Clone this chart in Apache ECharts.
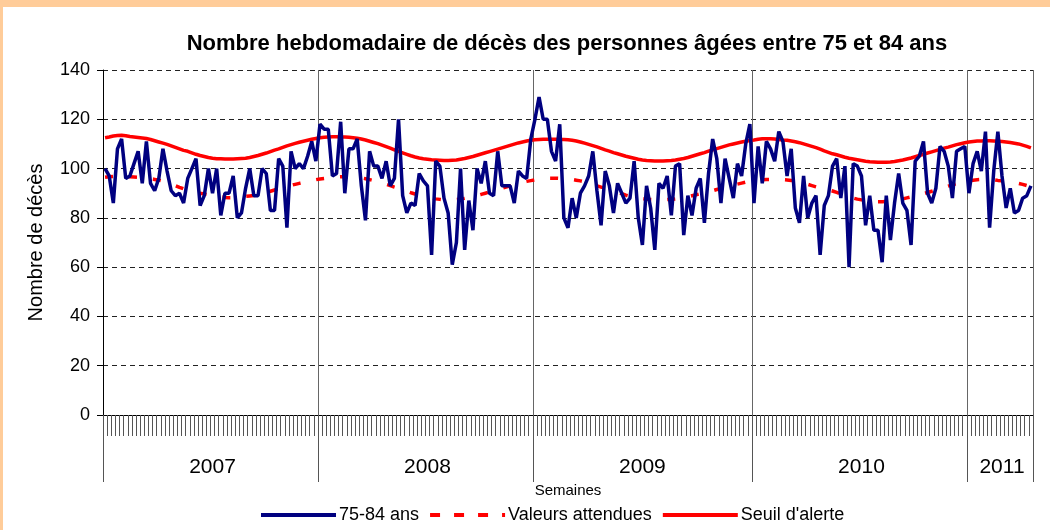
<!DOCTYPE html>
<html>
<head>
<meta charset="utf-8">
<script src="https://cdn.jsdelivr.net/npm/echarts@6/dist/echarts.min.js"></script>
<style>
  html, body { margin: 0; padding: 0; background: #fff; }
  #chart { width: 1050px; height: 530px; }
</style>
</head>
<body>
<div id="chart"></div>
<script>
// ---- Data ----
const years = ['2007', '2008', '2009', '2010', '2011'];

// Weekly deaths, persons aged 75-84
const deaths2007 = [100,97,86,108,112,96,97,102,107,94,111,94,91,96,108,99,91,89,90,86,96,100,104,85,89,100,90,100,81,90,90,97,80,82,92,100,89,89,100,98,83,83,104,101,76,107,100,102,100,105,111,103];
const deaths2008 = [118,116,116,97,98,119,90,108,108,112,93,79,107,101,101,96,103,93,96,120,89,82,86,85,98,95,93,65,103,101,88,82,61,70,100,67,87,75,100,94,103,90,89,107,93,93,93,86,99,97,96,112];
const deaths2009 = [120,129,120,120,107,103,118,80,76,88,80,90,93,97,107,91,77,99,93,82,94,90,86,88,103,80,69,93,84,67,94,92,97,81,101,102,73,89,81,92,96,78,98,112,104,86,104,96,88,102,97,110,118];
const deaths2010 = [86,109,94,111,108,103,115,111,97,108,84,78,97,80,86,89,65,85,89,101,104,88,101,60,102,101,97,77,89,75,75,62,89,71,86,98,86,83,69,103,105,111,90,86,92,109,107,101,88,107,108,109];
const deaths2011 = [90,102,107,99,115,76,99,115,97,84,92,82,83,88,89,93];

// Expected values (Valeurs attendues)
const expected2007 = [96.5,96.7,96.8,96.9,96.9,96.8,96.7,96.6,96.5,96.3,96.1,95.9,95.6,95.3,94.9,94.4,93.8,93.1,92.4,91.8,91.3,90.8,90.4,90,89.7,89.4,89.1,88.8,88.5,88.3,88.2,88.2,88.3,88.5,88.7,88.9,89.1,89.4,89.8,90.3,90.8,91.3,91.8,92.3,92.8,93.2,93.6,94,94.4,94.8,95.2,95.5];
const expected2008 = [95.8,96,96.2,96.4,96.6,96.7,96.7,96.7,96.6,96.4,96.2,95.9,95.5,95.1,94.6,94.1,93.6,93.1,92.5,92,91.4,90.8,90.2,89.7,89.1,88.7,88.3,88,87.7,87.5,87.3,87.3,87.3,87.4,87.6,87.9,88.2,88.6,89,89.5,90,90.5,91,91.5,92,92.5,93,93.5,94,94.4,94.8,95.1];
const expected2009 = [95.4,95.8,96,96.1,96.1,96.1,96,96,95.8,95.6,95.3,95,94.6,94,93.5,93,92.5,92,91.5,91,90.4,89.8,89.2,88.7,88.3,88,87.8,87.6,87.5,87.4,87.3,87.3,87.4,87.5,87.7,87.9,88.2,88.6,89,89.4,89.8,90.2,90.6,91,91.5,91.9,92.4,92.8,93.3,93.7,94.1,94.5,94.9];
const expected2010 = [95.2,95.4,95.5,95.6,95.6,95.6,95.6,95.5,95.4,95.2,95,94.6,94.1,93.6,93.1,92.6,92.1,91.7,91.4,90.9,90.3,89.7,89.1,88.5,88,87.6,87.3,87,86.8,86.6,86.5,86.5,86.6,86.8,87.1,87.4,87.7,88.1,88.5,88.9,89.4,89.8,90.3,90.8,91.3,91.8,92.4,92.9,93.4,93.9,94.3,94.7];
const expected2011 = [95,95.3,95.5,95.6,95.6,95.6,95.5,95.2,95.1,94.9,94.6,94.3,94,93.6,93.1,92.6];

// Alert threshold (Seuil d'alerte)
const threshold2007 = [112.5,112.8,113.2,113.4,113.5,113.3,113,112.8,112.6,112.4,112.2,111.8,111.3,110.8,110.3,109.8,109.2,108.6,108,107.4,107,106.4,105.8,105.3,104.9,104.5,104.2,104,104,103.9,103.9,103.9,104,104.1,104.2,104.5,104.9,105.3,105.8,106.3,106.9,107.5,108,108.6,109.2,109.7,110.2,110.7,111.1,111.5,111.9,112.2];
const threshold2008 = [112.5,112.7,112.8,112.9,112.9,112.8,112.8,112.7,112.5,112.3,112,111.6,111.1,110.6,110.1,109.5,108.9,108.3,107.6,107,106.4,105.8,105.2,104.7,104.3,104,103.8,103.6,103.5,103.4,103.3,103.3,103.4,103.5,103.8,104.1,104.5,104.9,105.4,105.9,106.4,106.9,107.4,107.9,108.4,108.9,109.4,109.9,110.4,110.8,111.2,111.5];
const threshold2009 = [111.7,111.8,111.9,111.9,111.9,111.9,111.8,111.8,111.7,111.5,111.2,110.8,110.3,109.8,109.3,108.8,108.2,107.6,107.1,106.5,106,105.5,105,104.6,104.2,103.8,103.5,103.3,103.2,103.1,103.1,103.1,103.2,103.3,103.5,103.8,104.1,104.5,105,105.5,106,106.5,107.1,107.6,108.1,108.6,109.1,109.6,110,110.4,110.8,111.1,111.4];
const threshold2010 = [111.6,111.9,112.1,112.1,112.1,112,111.8,111.6,111.5,111.2,110.9,110.5,110,109.5,109,108.5,107.9,107.2,106.6,106,105.6,105.1,104.6,104.2,103.9,103.6,103.3,103,102.8,102.7,102.6,102.6,102.6,102.7,102.9,103.2,103.5,103.9,104.3,104.8,105.3,105.8,106.3,106.8,107.3,107.8,108.3,108.7,109.2,109.7,110.1,110.5];
const threshold2011 = [110.8,111,111.2,111.2,111.3,111.3,111.2,111.1,111,110.8,110.6,110.3,110,109.5,109,108.4];

const yTicks = [0, 20, 40, 60, 80, 100, 120, 140];

// ---- Build the category axis from the per-year arrays ----
const deathsByYear = [deaths2007, deaths2008, deaths2009, deaths2010, deaths2011];
const expectedByYear = [expected2007, expected2008, expected2009, expected2010, expected2011];
const thresholdByYear = [threshold2007, threshold2008, threshold2009, threshold2010, threshold2011];

const weekCats = [];
const yearStart = [];
const yearMid = [];
deathsByYear.forEach((arr, y) => {
  yearStart.push(weekCats.length);
  yearMid.push(weekCats.length + Math.floor(arr.length / 2));
  arr.forEach((v, w) => weekCats.push(years[y] + '-S' + String(w + 1).padStart(2, '0')));
});
const deaths = [].concat(...deathsByYear);
const expected = [].concat(...expectedByYear);
const threshold = [].concat(...thresholdByYear);
const boundaries = yearStart.concat([weekCats.length]);

const FONT = '"Liberation Sans", Arial, sans-serif';
const DASH_ICON = 'path://M0,0h10v4h-10z M24,0h10v4h-10z M48,0h10v4h-10z M72,0h3v4h-3z';

const chart = echarts.init(document.getElementById('chart'), null, { renderer: 'canvas' });
chart.setOption({
  animation: false,
  backgroundColor: '#ffffff',
  graphic: [
    { type: 'rect', shape: { x: 0, y: 0, width: 1050, height: 7 }, style: { fill: '#FFCC99' }, z: 100 },
    { type: 'rect', shape: { x: 0, y: 0, width: 3, height: 530 }, style: { fill: '#FFCC99' }, z: 100 }
  ],
  title: {
    text: 'Nombre hebdomadaire de décès des personnes âgées entre 75 et 84 ans',
    left: 562,
    textAlign: 'center',
    top: 28,
    textStyle: { fontFamily: FONT, fontSize: 22, fontWeight: 'bold', color: '#000' }
  },
  legend: {
    bottom: 1,
    left: 256,
    itemWidth: 75,
    itemHeight: 4,
    itemGap: 11,
    symbolKeepAspect: false,
    textStyle: { fontFamily: FONT, fontSize: 18, color: '#000', padding: [0, 0, 0, -2] },
    data: [
      { name: '75-84 ans', icon: 'rect' },
      { name: 'Valeurs attendues', icon: DASH_ICON },
      { name: "Seuil d'alerte", icon: 'rect' }
    ]
  },
  grid: { left: 103, top: 70, width: 930, height: 345 },
  xAxis: [
    {
      type: 'category',
      data: weekCats,
      boundaryGap: true,
      axisLine: { lineStyle: { color: '#000', width: 1 } },
      axisTick: { show: true, interval: 0, length: 21, lineStyle: { color: '#555', width: 1 } },
      axisLabel: {
        interval: (idx) => yearMid.indexOf(idx) >= 0,
        formatter: (val) => val.slice(0, 4),
        fontFamily: FONT, fontSize: 21, color: '#000', margin: 42
      },
      splitLine: { show: false }
    },
    {
      type: 'category',
      data: weekCats,
      position: 'bottom',
      boundaryGap: true,
      axisLine: { show: false },
      axisTick: {
        show: true,
        interval: (idx) => boundaries.indexOf(idx) >= 0,
        length: 67,
        lineStyle: { color: '#555', width: 1 }
      },
      axisLabel: { show: false },
      splitLine: {
        show: true,
        interval: (idx) => yearStart.indexOf(idx) > 0,
        lineStyle: { color: '#666', width: 1 }
      },
      name: 'Semaines',
      nameLocation: 'middle',
      nameGap: 68,
      nameTextStyle: { fontFamily: FONT, fontSize: 15, color: '#000' }
    }
  ],
  yAxis: {
    type: 'value',
    min: yTicks[0],
    max: yTicks[yTicks.length - 1],
    interval: 20,
    axisLine: { show: true, lineStyle: { color: '#000', width: 1 } },
    axisTick: { show: true, length: 6, lineStyle: { color: '#000' } },
    axisLabel: { fontFamily: FONT, fontSize: 18, color: '#000', margin: 13 },
    splitLine: { show: true, lineStyle: { color: '#222', width: 1, type: [5, 4] } },
    name: 'Nombre de décès',
    nameLocation: 'middle',
    nameGap: 57,
    nameTextStyle: { fontFamily: FONT, fontSize: 20, color: '#000' }
  },
  series: [
    {
      name: "Seuil d'alerte",
      type: 'line',
      data: threshold,
      symbol: 'none',
      itemStyle: { color: '#FF0000' },
      lineStyle: { color: '#FF0000', width: 3.5 },
      z: 2
    },
    {
      name: 'Valeurs attendues',
      type: 'line',
      data: expected,
      symbol: 'none',
      itemStyle: { color: '#FF0000' },
      lineStyle: { color: '#FF0000', width: 3.5, type: [8, 16] },
      z: 2
    },
    {
      name: '75-84 ans',
      type: 'line',
      data: deaths,
      symbol: 'none',
      itemStyle: { color: '#000080' },
      lineStyle: { color: '#000080', width: 3.5 },
      z: 3
    }
  ]
});
</script>
</body>
</html>
